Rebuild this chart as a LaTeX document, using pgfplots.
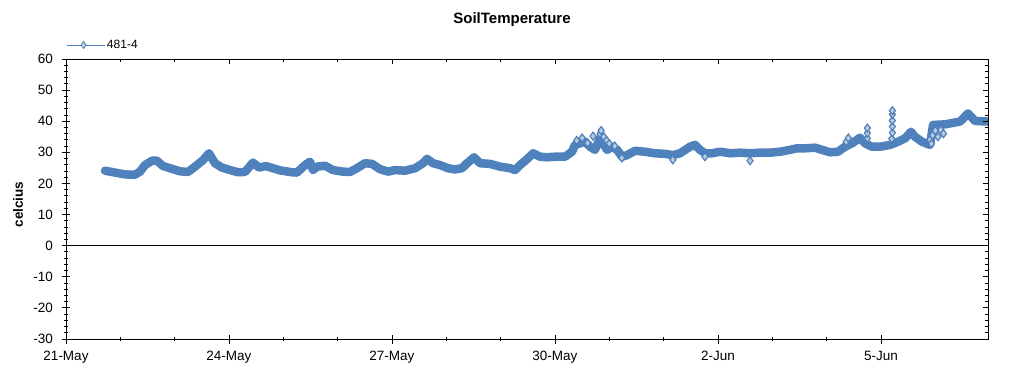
\documentclass[border=0pt]{standalone}
\usepackage{pgfplots}
\pgfplotsset{compat=1.18}
\usepackage{pgfplotstable}
\usepackage{fontspec}
\setmainfont{Liberation Sans}
\definecolor{serblue}{RGB}{79,129,189}
\definecolor{serfill}{RGB}{185,205,222}
\pgfplotstableread{
d v
0.718 24.1
0.902 23.5
1.086 22.9
1.270 22.8
1.362 23.8
1.454 25.9
1.583 27.3
1.675 27.3
1.785 25.6
1.951 24.7
2.098 23.9
2.246 23.7
2.374 25.4
2.522 27.5
2.632 29.7
2.742 26.5
2.871 25.1
3.019 24.3
3.166 23.6
3.295 23.7
3.387 25.6
3.442 26.7
3.552 25.1
3.681 25.6
3.810 24.9
3.939 24.2
4.160 23.6
4.252 23.5
4.399 25.9
4.491 27.0
4.546 24.3
4.620 25.4
4.767 25.7
4.914 24.3
5.098 23.8
5.227 23.7
5.356 24.9
5.503 26.5
5.632 26.3
5.779 24.6
5.927 23.8
6.056 24.3
6.240 24.1
6.424 24.9
6.571 26.5
6.645 27.9
6.755 26.5
6.884 25.9
7.031 24.9
7.160 24.5
7.289 24.9
7.381 26.5
7.510 28.4
7.620 26.5
7.804 26.3
7.988 25.4
8.172 24.9
8.264 24.3
8.356 25.9
8.485 27.8
8.596 29.7
8.725 28.6
8.853 28.4
9.001 28.6
9.185 28.6
9.314 30.2
9.369 32.4
9.461 32.9
9.553 33.4
9.645 31.8
9.737 30.8
9.829 34.5
9.884 33.0
9.958 30.8
10.050 31.8
10.142 30.8
10.234 28.6
10.326 29.1
10.473 30.5
10.657 30.2
10.841 29.7
11.025 29.5
11.172 29.1
11.301 29.7
11.485 31.8
11.577 32.4
11.669 30.8
11.761 29.7
11.890 29.7
12.038 30.2
12.222 29.7
12.406 29.9
12.590 29.7
12.774 29.9
12.958 29.9
13.142 30.2
13.326 30.8
13.455 31.3
13.602 31.3
13.786 31.5
13.915 30.8
14.062 30.0
14.209 30.2
14.338 31.8
14.467 32.9
14.615 34.7
14.707 32.9
14.835 31.8
14.983 31.8
15.167 32.4
15.314 33.4
15.443 34.5
15.553 36.6
15.627 35.0
15.756 33.4
15.903 32.4
15.958 38.8
16.179 39.0
16.455 39.9
16.602 42.5
16.731 40.1
16.970 39.9
}\maintable
\pgfplotstableread{
d v
9.40 33.8
9.50 34.6
9.60 33.0
9.70 35.2
9.83 36.0
9.85 37.0
9.90 35.0
9.95 33.8
10.00 32.8
10.10 32.0
10.23 28.2
11.17 27.6
11.76 28.6
12.59 27.3
14.36 33.4
14.40 34.6
14.75 34.5
14.75 36.2
14.75 37.8
15.20 34.4
15.21 36.3
15.21 38.3
15.21 40.2
15.21 42.2
15.21 43.4
15.90 34.0
15.95 35.5
16.00 37.0
16.05 35.0
16.10 37.2
16.15 36.0
15.93 32.8
}\spiketable
\begin{document}
\begin{tikzpicture}
\useasboundingbox (-66pt,-36pt) rectangle (958pt,339pt);
\begin{axis}[
  scale only axis, width=922pt, height=280pt,
  at={(0pt,0pt)}, anchor=south west,
  xmin=0, xmax=16.97, ymin=-30, ymax=60,
  xtick={0,3,6,9,12,15},
  xticklabels={21-May,24-May,27-May,30-May,2-Jun,5-Jun},
  minor x tick num=2,
  ytick={-30,-20,...,60}, minor y tick num=4,
  xtick pos=bottom, ytick pos=left,
  tick align=center,
  major tick length=9pt, minor tick length=4.5pt,
  axis line style={line width=0.8pt},
  every tick/.style={black, line width=0.8pt},
  ticklabel style={font=\fontsize{13.5}{15}\selectfont},
  /pgf/number format/assume math mode=true,
  yticklabel style={xshift=-5pt},
  xticklabel style={yshift=-4pt},
  ylabel={\textbf{celcius}},
  ylabel style={at={(axis description cs:-0.052,0.48)}, anchor=center, font=\fontsize{13.5}{15}\selectfont},
  title={\textbf{SoilTemperature}},
  title style={at={(axis description cs:0.4837,1)}, anchor=center, yshift=33pt, font=\fontsize{15}{17}\selectfont},
  legend style={at={(axis description cs:0.0,1.05)}, anchor=west, draw=none, fill=none,
    font=\fontsize{12}{14}\selectfont, inner xsep=0pt, inner ysep=0pt},
  legend image code/.code={%
    \path (0pt,0pt) -- (38pt,0pt);
    \draw[#1, mark=none] (3pt,0pt) -- (31pt,0pt);
    \draw[#1, only marks] plot coordinates {(17pt,0pt)};},
  clip=true,
]
\addlegendimage{serblue, line width=0.8pt, mark=diamond*, mark size=3.5pt, mark options={fill=serfill, draw=serblue, line width=0.7pt}}
\addlegendentry{481-4}
\addplot[black, line width=0.8pt, forget plot] coordinates {(0,0) (16.97,0)};
\addplot[serblue, line width=8.5pt, line join=round, line cap=round, forget plot] table[x=d, y=v] {\maintable};
\addplot[only marks, mark=diamond*, mark size=4pt, mark options={fill=serfill, draw=serblue, line width=1.2pt}, forget plot] table[x=d, y=v] {\spiketable};
\end{axis}
\begin{axis}[
  scale only axis, width=922pt, height=280pt,
  at={(0pt,0pt)}, anchor=south west,
  xmin=0, xmax=16.97, ymin=-30, ymax=60,
  xtick={0,3,6,9,12,15}, xticklabels={},
  minor x tick num=2,
  ytick={-30,-20,...,60}, yticklabels={}, minor y tick num=4,
  xtick pos=top, ytick pos=right,
  tick align=inside,
  major tick length=5pt, minor tick length=3pt,
  axis line style={line width=0.8pt},
  every tick/.style={black, line width=0.8pt},
]
\end{axis}
\end{tikzpicture}
\end{document}
